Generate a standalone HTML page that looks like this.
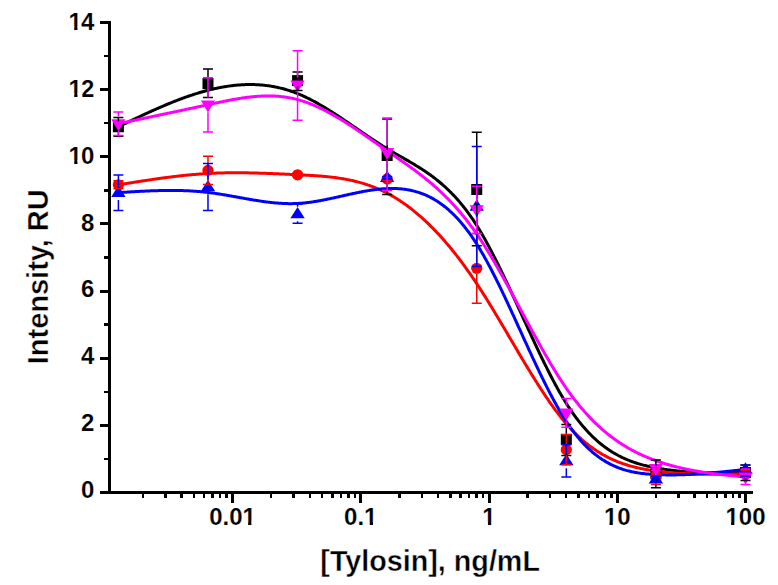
<!DOCTYPE html>
<html><head><meta charset="utf-8"><title>Intensity vs Tylosin</title><style>
html,body{margin:0;padding:0;background:#fff;width:778px;height:585px;overflow:hidden;}
svg{display:block;}
.t{font-family:"Liberation Sans",sans-serif;font-weight:bold;font-size:24.5px;fill:#000;stroke:#fff;stroke-width:0.15px;}
.a{font-family:"Liberation Sans",sans-serif;font-weight:bold;font-size:30.0px;fill:#000;stroke:#fff;stroke-width:0.4px;}
</style></head><body>
<svg width="778" height="585" viewBox="0 0 778 585">
<rect width="778" height="585" fill="#fff"/>
<g>
<path d="M118.40,126.75 L119.30,126.32 L120.19,125.89 L121.09,125.46 L121.98,125.02 L122.88,124.59 L123.78,124.16 L124.67,123.73 L125.57,123.30 L126.46,122.87 L127.36,122.44 L128.25,122.01 L129.15,121.58 L130.05,121.16 L130.94,120.73 L131.84,120.30 L132.73,119.87 L133.63,119.45 L134.53,119.02 L135.42,118.60 L136.32,118.17 L137.21,117.75 L138.11,117.33 L139.00,116.91 L139.90,116.49 L140.80,116.07 L141.69,115.65 L142.59,115.23 L143.48,114.81 L144.38,114.40 L145.28,113.99 L146.17,113.57 L147.07,113.16 L147.96,112.75 L148.86,112.34 L149.75,111.93 L150.65,111.53 L151.55,111.12 L152.44,110.72 L153.34,110.32 L154.23,109.92 L155.13,109.52 L156.03,109.12 L156.92,108.73 L157.82,108.33 L158.71,107.94 L159.61,107.55 L160.51,107.16 L161.40,106.78 L162.30,106.39 L163.19,106.01 L164.09,105.63 L164.98,105.25 L165.88,104.88 L166.78,104.50 L167.67,104.13 L168.57,103.76 L169.46,103.39 L170.36,103.03 L171.26,102.67 L172.15,102.31 L173.05,101.95 L173.94,101.59 L174.84,101.24 L175.73,100.89 L176.63,100.54 L177.53,100.19 L178.42,99.85 L179.32,99.51 L180.21,99.17 L181.11,98.84 L182.01,98.51 L182.90,98.18 L183.80,97.85 L184.69,97.53 L185.59,97.21 L186.49,96.89 L187.38,96.58 L188.28,96.27 L189.17,95.96 L190.07,95.66 L190.96,95.35 L191.86,95.06 L192.76,94.76 L193.65,94.47 L194.55,94.18 L195.44,93.90 L196.34,93.62 L197.24,93.34 L198.13,93.06 L199.03,92.79 L199.92,92.53 L200.82,92.26 L201.71,92.00 L202.61,91.75 L203.51,91.49 L204.40,91.25 L205.30,91.00 L206.19,90.76 L207.09,90.52 L207.99,90.29 L208.88,90.06 L209.78,89.84 L210.67,89.62 L211.57,89.40 L212.47,89.19 L213.36,88.98 L214.26,88.78 L215.15,88.58 L216.05,88.38 L216.94,88.19 L217.84,88.00 L218.74,87.82 L219.63,87.65 L220.53,87.47 L221.42,87.30 L222.32,87.14 L223.22,86.98 L224.11,86.83 L225.01,86.68 L225.90,86.53 L226.80,86.39 L227.69,86.25 L228.59,86.12 L229.49,86.00 L230.38,85.88 L231.28,85.76 L232.17,85.65 L233.07,85.54 L233.97,85.44 L234.86,85.35 L235.76,85.26 L236.65,85.17 L237.55,85.09 L238.44,85.01 L239.34,84.94 L240.24,84.88 L241.13,84.82 L242.03,84.77 L242.92,84.72 L243.82,84.68 L244.72,84.64 L245.61,84.61 L246.51,84.58 L247.40,84.56 L248.30,84.55 L249.20,84.54 L250.09,84.53 L250.99,84.54 L251.88,84.55 L252.78,84.56 L253.67,84.58 L254.57,84.61 L255.47,84.64 L256.36,84.68 L257.26,84.72 L258.15,84.77 L259.05,84.83 L259.95,84.89 L260.84,84.96 L261.74,85.03 L262.63,85.11 L263.53,85.20 L264.42,85.30 L265.32,85.40 L266.22,85.50 L267.11,85.62 L268.01,85.74 L268.90,85.86 L269.80,85.99 L270.70,86.13 L271.59,86.28 L272.49,86.43 L273.38,86.59 L274.28,86.76 L275.18,86.93 L276.07,87.11 L276.97,87.30 L277.86,87.49 L278.76,87.69 L279.65,87.90 L280.55,88.12 L281.45,88.34 L282.34,88.57 L283.24,88.80 L284.13,89.05 L285.03,89.30 L285.93,89.55 L286.82,89.82 L287.72,90.09 L288.61,90.37 L289.51,90.66 L290.40,90.95 L291.30,91.26 L292.20,91.57 L293.09,91.88 L293.99,92.21 L294.88,92.54 L295.78,92.88 L296.68,93.23 L297.57,93.58 L298.47,93.95 L299.36,94.32 L300.26,94.70 L301.15,95.08 L302.05,95.48 L302.95,95.88 L303.84,96.28 L304.74,96.70 L305.63,97.12 L306.53,97.55 L307.43,97.98 L308.32,98.42 L309.22,98.87 L310.11,99.33 L311.01,99.79 L311.91,100.25 L312.80,100.72 L313.70,101.20 L314.59,101.68 L315.49,102.17 L316.38,102.67 L317.28,103.17 L318.18,103.67 L319.07,104.18 L319.97,104.70 L320.86,105.22 L321.76,105.74 L322.66,106.27 L323.55,106.80 L324.45,107.34 L325.34,107.88 L326.24,108.43 L327.13,108.98 L328.03,109.53 L328.93,110.09 L329.82,110.65 L330.72,111.21 L331.61,111.78 L332.51,112.35 L333.41,112.93 L334.30,113.51 L335.20,114.09 L336.09,114.67 L336.99,115.26 L337.88,115.84 L338.78,116.43 L339.68,117.03 L340.57,117.62 L341.47,118.22 L342.36,118.82 L343.26,119.42 L344.16,120.03 L345.05,120.63 L345.95,121.24 L346.84,121.84 L347.74,122.45 L348.64,123.06 L349.53,123.67 L350.43,124.29 L351.32,124.90 L352.22,125.51 L353.11,126.13 L354.01,126.74 L354.91,127.35 L355.80,127.97 L356.70,128.58 L357.59,129.20 L358.49,129.81 L359.39,130.43 L360.28,131.04 L361.18,131.66 L362.07,132.27 L362.97,132.88 L363.86,133.49 L364.76,134.10 L365.66,134.71 L366.55,135.32 L367.45,135.93 L368.34,136.53 L369.24,137.13 L370.14,137.74 L371.03,138.34 L371.93,138.93 L372.82,139.53 L373.72,140.12 L374.62,140.71 L375.51,141.30 L376.41,141.89 L377.30,142.47 L378.20,143.05 L379.09,143.63 L379.99,144.21 L380.89,144.78 L381.78,145.35 L382.68,145.91 L383.57,146.47 L384.47,147.03 L385.37,147.59 L386.26,148.14 L387.16,148.68 L388.05,149.23 L388.95,149.76 L389.84,150.30 L390.74,150.83 L391.64,151.36 L392.53,151.89 L393.43,152.41 L394.32,152.93 L395.22,153.45 L396.12,153.97 L397.01,154.48 L397.91,155.00 L398.80,155.51 L399.70,156.02 L400.59,156.54 L401.49,157.05 L402.39,157.56 L403.28,158.07 L404.18,158.58 L405.07,159.10 L405.97,159.61 L406.87,160.13 L407.76,160.65 L408.66,161.16 L409.55,161.69 L410.45,162.21 L411.35,162.74 L412.24,163.27 L413.14,163.80 L414.03,164.33 L414.93,164.87 L415.82,165.42 L416.72,165.96 L417.62,166.51 L418.51,167.07 L419.41,167.63 L420.30,168.20 L421.20,168.77 L422.10,169.35 L422.99,169.93 L423.89,170.52 L424.78,171.11 L425.68,171.72 L426.57,172.33 L427.47,172.94 L428.37,173.57 L429.26,174.20 L430.16,174.84 L431.05,175.49 L431.95,176.14 L432.85,176.81 L433.74,177.48 L434.64,178.17 L435.53,178.86 L436.43,179.56 L437.33,180.28 L438.22,181.00 L439.12,181.73 L440.01,182.48 L440.91,183.23 L441.80,184.00 L442.70,184.78 L443.60,185.57 L444.49,186.37 L445.39,187.19 L446.28,188.01 L447.18,188.85 L448.08,189.71 L448.97,190.57 L449.87,191.45 L450.76,192.35 L451.66,193.25 L452.55,194.18 L453.45,195.11 L454.35,196.07 L455.24,197.03 L456.14,198.02 L457.03,199.02 L457.93,200.03 L458.83,201.06 L459.72,202.11 L460.62,203.17 L461.51,204.25 L462.41,205.35 L463.31,206.47 L464.20,207.60 L465.10,208.75 L465.99,209.92 L466.89,211.11 L467.78,212.31 L468.68,213.54 L469.58,214.78 L470.47,216.05 L471.37,217.33 L472.26,218.64 L473.16,219.96 L474.06,221.31 L474.95,222.67 L475.85,224.06 L476.74,225.47 L477.64,226.90 L478.53,228.35 L479.43,229.82 L480.33,231.31 L481.22,232.82 L482.12,234.35 L483.01,235.90 L483.91,237.47 L484.81,239.06 L485.70,240.66 L486.60,242.29 L487.49,243.92 L488.39,245.58 L489.28,247.25 L490.18,248.94 L491.08,250.64 L491.97,252.36 L492.87,254.09 L493.76,255.83 L494.66,257.59 L495.56,259.36 L496.45,261.14 L497.35,262.94 L498.24,264.74 L499.14,266.56 L500.04,268.39 L500.93,270.23 L501.83,272.08 L502.72,273.94 L503.62,275.81 L504.51,277.68 L505.41,279.57 L506.31,281.46 L507.20,283.36 L508.10,285.27 L508.99,287.18 L509.89,289.10 L510.79,291.03 L511.68,292.96 L512.58,294.89 L513.47,296.83 L514.37,298.78 L515.26,300.72 L516.16,302.67 L517.06,304.62 L517.95,306.58 L518.85,308.54 L519.74,310.49 L520.64,312.45 L521.54,314.41 L522.43,316.37 L523.33,318.33 L524.22,320.29 L525.12,322.24 L526.01,324.20 L526.91,326.15 L527.81,328.10 L528.70,330.05 L529.60,331.99 L530.49,333.93 L531.39,335.87 L532.29,337.80 L533.18,339.73 L534.08,341.65 L534.97,343.56 L535.87,345.47 L536.77,347.37 L537.66,349.26 L538.56,351.15 L539.45,353.03 L540.35,354.90 L541.24,356.76 L542.14,358.61 L543.04,360.45 L543.93,362.28 L544.83,364.10 L545.72,365.91 L546.62,367.70 L547.52,369.49 L548.41,371.26 L549.31,373.02 L550.20,374.77 L551.10,376.50 L551.99,378.22 L552.89,379.92 L553.79,381.61 L554.68,383.28 L555.58,384.94 L556.47,386.58 L557.37,388.20 L558.27,389.81 L559.16,391.40 L560.06,392.97 L560.95,394.52 L561.85,396.06 L562.75,397.57 L563.64,399.06 L564.54,400.54 L565.43,401.99 L566.33,403.42 L567.22,404.84 L568.12,406.23 L569.02,407.59 L569.91,408.94 L570.81,410.27 L571.70,411.57 L572.60,412.86 L573.50,414.13 L574.39,415.37 L575.29,416.60 L576.18,417.80 L577.08,418.99 L577.97,420.15 L578.87,421.30 L579.77,422.43 L580.66,423.54 L581.56,424.63 L582.45,425.70 L583.35,426.76 L584.25,427.79 L585.14,428.81 L586.04,429.81 L586.93,430.80 L587.83,431.76 L588.72,432.71 L589.62,433.64 L590.52,434.55 L591.41,435.45 L592.31,436.33 L593.20,437.20 L594.10,438.05 L595.00,438.88 L595.89,439.70 L596.79,440.50 L597.68,441.28 L598.58,442.05 L599.48,442.81 L600.37,443.55 L601.27,444.28 L602.16,444.99 L603.06,445.69 L603.95,446.37 L604.85,447.04 L605.75,447.69 L606.64,448.33 L607.54,448.96 L608.43,449.58 L609.33,450.18 L610.23,450.77 L611.12,451.34 L612.02,451.91 L612.91,452.46 L613.81,453.00 L614.70,453.52 L615.60,454.04 L616.50,454.54 L617.39,455.03 L618.29,455.51 L619.18,455.98 L620.08,456.44 L620.98,456.89 L621.87,457.33 L622.77,457.75 L623.66,458.17 L624.56,458.58 L625.46,458.97 L626.35,459.36 L627.25,459.74 L628.14,460.11 L629.04,460.46 L629.93,460.81 L630.83,461.16 L631.73,461.49 L632.62,461.81 L633.52,462.13 L634.41,462.44 L635.31,462.74 L636.21,463.03 L637.10,463.31 L638.00,463.59 L638.89,463.86 L639.79,464.12 L640.68,464.38 L641.58,464.63 L642.48,464.87 L643.37,465.11 L644.27,465.34 L645.16,465.56 L646.06,465.78 L646.96,466.00 L647.85,466.21 L648.75,466.41 L649.64,466.61 L650.54,466.80 L651.43,466.99 L652.33,467.17 L653.23,467.35 L654.12,467.53 L655.02,467.70 L655.91,467.87 L656.82,468.03 L657.72,468.19 L658.63,468.35 L659.53,468.51 L660.44,468.66 L661.34,468.81 L662.25,468.95 L663.15,469.09 L664.06,469.23 L664.96,469.37 L665.87,469.50 L666.77,469.63 L667.68,469.75 L668.58,469.87 L669.49,469.99 L670.39,470.11 L671.30,470.22 L672.20,470.33 L673.11,470.43 L674.01,470.54 L674.92,470.64 L675.82,470.73 L676.73,470.83 L677.63,470.92 L678.54,471.01 L679.44,471.10 L680.35,471.18 L681.25,471.26 L682.16,471.34 L683.06,471.42 L683.97,471.49 L684.87,471.56 L685.78,471.63 L686.68,471.69 L687.59,471.76 L688.49,471.82 L689.40,471.88 L690.30,471.93 L691.21,471.99 L692.11,472.04 L693.02,472.09 L693.92,472.14 L694.83,472.18 L695.73,472.22 L696.64,472.27 L697.54,472.30 L698.44,472.34 L699.35,472.38 L700.25,472.41 L701.16,472.44 L702.06,472.47 L702.97,472.50 L703.87,472.53 L704.78,472.55 L705.68,472.57 L706.59,472.60 L707.49,472.62 L708.40,472.63 L709.30,472.65 L710.21,472.67 L711.11,472.68 L712.02,472.69 L712.92,472.70 L713.83,472.71 L714.73,472.72 L715.64,472.73 L716.54,472.73 L717.45,472.74 L718.35,472.74 L719.26,472.75 L720.16,472.75 L721.07,472.75 L721.97,472.75 L722.88,472.74 L723.78,472.74 L724.69,472.74 L725.59,472.73 L726.50,472.73 L727.40,472.72 L728.31,472.72 L729.21,472.71 L730.12,472.70 L731.02,472.69 L731.93,472.68 L732.83,472.67 L733.74,472.66 L734.64,472.65 L735.55,472.64 L736.45,472.63 L737.36,472.62 L738.26,472.61 L739.17,472.59 L740.07,472.58 L740.98,472.57 L741.88,472.55 L742.79,472.54 L743.69,472.53 L744.60,472.51 L745.50,472.50" fill="none" stroke="#000000" stroke-width="3" stroke-linejoin="round"/>
<path d="M118.40,184.80 L119.30,184.66 L120.19,184.51 L121.09,184.37 L121.98,184.22 L122.88,184.08 L123.78,183.93 L124.67,183.79 L125.57,183.65 L126.46,183.50 L127.36,183.36 L128.25,183.21 L129.15,183.07 L130.05,182.93 L130.94,182.79 L131.84,182.64 L132.73,182.50 L133.63,182.36 L134.53,182.22 L135.42,182.08 L136.32,181.94 L137.21,181.79 L138.11,181.65 L139.00,181.51 L139.90,181.38 L140.80,181.24 L141.69,181.10 L142.59,180.96 L143.48,180.82 L144.38,180.69 L145.28,180.55 L146.17,180.41 L147.07,180.28 L147.96,180.14 L148.86,180.01 L149.75,179.88 L150.65,179.74 L151.55,179.61 L152.44,179.48 L153.34,179.35 L154.23,179.22 L155.13,179.09 L156.03,178.96 L156.92,178.84 L157.82,178.71 L158.71,178.58 L159.61,178.46 L160.51,178.34 L161.40,178.21 L162.30,178.09 L163.19,177.97 L164.09,177.85 L164.98,177.73 L165.88,177.61 L166.78,177.49 L167.67,177.38 L168.57,177.26 L169.46,177.15 L170.36,177.03 L171.26,176.92 L172.15,176.81 L173.05,176.70 L173.94,176.59 L174.84,176.48 L175.73,176.38 L176.63,176.27 L177.53,176.17 L178.42,176.07 L179.32,175.96 L180.21,175.86 L181.11,175.77 L182.01,175.67 L182.90,175.57 L183.80,175.48 L184.69,175.38 L185.59,175.29 L186.49,175.20 L187.38,175.11 L188.28,175.02 L189.17,174.94 L190.07,174.85 L190.96,174.77 L191.86,174.69 L192.76,174.61 L193.65,174.53 L194.55,174.45 L195.44,174.38 L196.34,174.30 L197.24,174.23 L198.13,174.16 L199.03,174.09 L199.92,174.02 L200.82,173.96 L201.71,173.90 L202.61,173.83 L203.51,173.77 L204.40,173.71 L205.30,173.66 L206.19,173.60 L207.09,173.55 L207.99,173.50 L208.88,173.45 L209.78,173.40 L210.67,173.36 L211.57,173.31 L212.47,173.27 L213.36,173.23 L214.26,173.20 L215.15,173.16 L216.05,173.12 L216.94,173.09 L217.84,173.06 L218.74,173.03 L219.63,173.00 L220.53,172.98 L221.42,172.95 L222.32,172.93 L223.22,172.91 L224.11,172.89 L225.01,172.87 L225.90,172.85 L226.80,172.84 L227.69,172.82 L228.59,172.81 L229.49,172.80 L230.38,172.79 L231.28,172.78 L232.17,172.78 L233.07,172.77 L233.97,172.77 L234.86,172.76 L235.76,172.76 L236.65,172.76 L237.55,172.76 L238.44,172.77 L239.34,172.77 L240.24,172.78 L241.13,172.78 L242.03,172.79 L242.92,172.80 L243.82,172.81 L244.72,172.82 L245.61,172.83 L246.51,172.84 L247.40,172.86 L248.30,172.87 L249.20,172.89 L250.09,172.91 L250.99,172.92 L251.88,172.94 L252.78,172.96 L253.67,172.98 L254.57,173.01 L255.47,173.03 L256.36,173.05 L257.26,173.08 L258.15,173.10 L259.05,173.13 L259.95,173.16 L260.84,173.18 L261.74,173.21 L262.63,173.24 L263.53,173.27 L264.42,173.30 L265.32,173.33 L266.22,173.37 L267.11,173.40 L268.01,173.43 L268.90,173.47 L269.80,173.50 L270.70,173.54 L271.59,173.57 L272.49,173.61 L273.38,173.64 L274.28,173.68 L275.18,173.72 L276.07,173.76 L276.97,173.80 L277.86,173.83 L278.76,173.87 L279.65,173.91 L280.55,173.95 L281.45,173.99 L282.34,174.04 L283.24,174.08 L284.13,174.12 L285.03,174.16 L285.93,174.20 L286.82,174.24 L287.72,174.29 L288.61,174.33 L289.51,174.37 L290.40,174.41 L291.30,174.46 L292.20,174.50 L293.09,174.54 L293.99,174.59 L294.88,174.63 L295.78,174.67 L296.68,174.72 L297.57,174.76 L298.47,174.80 L299.36,174.84 L300.26,174.89 L301.15,174.93 L302.05,174.98 L302.95,175.02 L303.84,175.07 L304.74,175.11 L305.63,175.16 L306.53,175.20 L307.43,175.25 L308.32,175.30 L309.22,175.35 L310.11,175.40 L311.01,175.45 L311.91,175.51 L312.80,175.56 L313.70,175.62 L314.59,175.67 L315.49,175.73 L316.38,175.79 L317.28,175.86 L318.18,175.92 L319.07,175.99 L319.97,176.05 L320.86,176.12 L321.76,176.20 L322.66,176.27 L323.55,176.35 L324.45,176.43 L325.34,176.51 L326.24,176.60 L327.13,176.68 L328.03,176.77 L328.93,176.87 L329.82,176.96 L330.72,177.06 L331.61,177.16 L332.51,177.27 L333.41,177.38 L334.30,177.49 L335.20,177.61 L336.09,177.73 L336.99,177.85 L337.88,177.98 L338.78,178.11 L339.68,178.24 L340.57,178.38 L341.47,178.52 L342.36,178.67 L343.26,178.82 L344.16,178.97 L345.05,179.13 L345.95,179.30 L346.84,179.47 L347.74,179.64 L348.64,179.82 L349.53,180.00 L350.43,180.19 L351.32,180.38 L352.22,180.58 L353.11,180.78 L354.01,180.99 L354.91,181.20 L355.80,181.42 L356.70,181.65 L357.59,181.88 L358.49,182.11 L359.39,182.36 L360.28,182.60 L361.18,182.86 L362.07,183.12 L362.97,183.38 L363.86,183.65 L364.76,183.93 L365.66,184.22 L366.55,184.51 L367.45,184.81 L368.34,185.11 L369.24,185.42 L370.14,185.74 L371.03,186.06 L371.93,186.40 L372.82,186.73 L373.72,187.08 L374.62,187.43 L375.51,187.79 L376.41,188.16 L377.30,188.54 L378.20,188.92 L379.09,189.31 L379.99,189.71 L380.89,190.11 L381.78,190.53 L382.68,190.95 L383.57,191.38 L384.47,191.82 L385.37,192.27 L386.26,192.72 L387.16,193.18 L388.05,193.66 L388.95,194.14 L389.84,194.62 L390.74,195.12 L391.64,195.63 L392.53,196.14 L393.43,196.66 L394.32,197.20 L395.22,197.74 L396.12,198.28 L397.01,198.84 L397.91,199.41 L398.80,199.98 L399.70,200.57 L400.59,201.16 L401.49,201.76 L402.39,202.37 L403.28,202.98 L404.18,203.61 L405.07,204.24 L405.97,204.89 L406.87,205.54 L407.76,206.20 L408.66,206.87 L409.55,207.55 L410.45,208.24 L411.35,208.93 L412.24,209.63 L413.14,210.35 L414.03,211.07 L414.93,211.80 L415.82,212.54 L416.72,213.29 L417.62,214.04 L418.51,214.81 L419.41,215.58 L420.30,216.36 L421.20,217.16 L422.10,217.96 L422.99,218.77 L423.89,219.58 L424.78,220.41 L425.68,221.25 L426.57,222.09 L427.47,222.94 L428.37,223.80 L429.26,224.68 L430.16,225.55 L431.05,226.44 L431.95,227.34 L432.85,228.25 L433.74,229.16 L434.64,230.09 L435.53,231.02 L436.43,231.96 L437.33,232.91 L438.22,233.87 L439.12,234.84 L440.01,235.82 L440.91,236.80 L441.80,237.80 L442.70,238.80 L443.60,239.81 L444.49,240.84 L445.39,241.87 L446.28,242.91 L447.18,243.95 L448.08,245.01 L448.97,246.08 L449.87,247.16 L450.76,248.24 L451.66,249.33 L452.55,250.44 L453.45,251.55 L454.35,252.67 L455.24,253.80 L456.14,254.94 L457.03,256.09 L457.93,257.24 L458.83,258.41 L459.72,259.58 L460.62,260.77 L461.51,261.96 L462.41,263.16 L463.31,264.37 L464.20,265.60 L465.10,266.82 L465.99,268.06 L466.89,269.31 L467.78,270.57 L468.68,271.83 L469.58,273.11 L470.47,274.39 L471.37,275.69 L472.26,276.99 L473.16,278.30 L474.06,279.62 L474.95,280.95 L475.85,282.29 L476.74,283.64 L477.64,285.00 L478.53,286.37 L479.43,287.74 L480.33,289.13 L481.22,290.52 L482.12,291.92 L483.01,293.33 L483.91,294.74 L484.81,296.16 L485.70,297.59 L486.60,299.03 L487.49,300.47 L488.39,301.92 L489.28,303.38 L490.18,304.84 L491.08,306.30 L491.97,307.77 L492.87,309.25 L493.76,310.73 L494.66,312.22 L495.56,313.71 L496.45,315.20 L497.35,316.70 L498.24,318.20 L499.14,319.71 L500.04,321.21 L500.93,322.72 L501.83,324.24 L502.72,325.75 L503.62,327.27 L504.51,328.79 L505.41,330.31 L506.31,331.83 L507.20,333.35 L508.10,334.88 L508.99,336.40 L509.89,337.92 L510.79,339.45 L511.68,340.97 L512.58,342.50 L513.47,344.02 L514.37,345.54 L515.26,347.06 L516.16,348.58 L517.06,350.10 L517.95,351.62 L518.85,353.13 L519.74,354.64 L520.64,356.15 L521.54,357.66 L522.43,359.16 L523.33,360.66 L524.22,362.15 L525.12,363.65 L526.01,365.13 L526.91,366.62 L527.81,368.10 L528.70,369.57 L529.60,371.04 L530.49,372.50 L531.39,373.96 L532.29,375.41 L533.18,376.86 L534.08,378.29 L534.97,379.73 L535.87,381.15 L536.77,382.57 L537.66,383.98 L538.56,385.39 L539.45,386.78 L540.35,388.17 L541.24,389.55 L542.14,390.92 L543.04,392.28 L543.93,393.63 L544.83,394.98 L545.72,396.31 L546.62,397.63 L547.52,398.95 L548.41,400.25 L549.31,401.54 L550.20,402.83 L551.10,404.10 L551.99,405.36 L552.89,406.60 L553.79,407.84 L554.68,409.06 L555.58,410.28 L556.47,411.47 L557.37,412.66 L558.27,413.83 L559.16,414.99 L560.06,416.14 L560.95,417.27 L561.85,418.39 L562.75,419.50 L563.64,420.59 L564.54,421.66 L565.43,422.72 L566.33,423.77 L567.22,424.80 L568.12,425.81 L569.02,426.81 L569.91,427.79 L570.81,428.76 L571.70,429.71 L572.60,430.65 L573.50,431.58 L574.39,432.49 L575.29,433.38 L576.18,434.26 L577.08,435.13 L577.97,435.98 L578.87,436.82 L579.77,437.65 L580.66,438.46 L581.56,439.26 L582.45,440.04 L583.35,440.81 L584.25,441.57 L585.14,442.32 L586.04,443.05 L586.93,443.77 L587.83,444.48 L588.72,445.17 L589.62,445.85 L590.52,446.52 L591.41,447.18 L592.31,447.83 L593.20,448.46 L594.10,449.08 L595.00,449.69 L595.89,450.29 L596.79,450.88 L597.68,451.46 L598.58,452.03 L599.48,452.58 L600.37,453.12 L601.27,453.66 L602.16,454.18 L603.06,454.69 L603.95,455.20 L604.85,455.69 L605.75,456.17 L606.64,456.64 L607.54,457.10 L608.43,457.56 L609.33,458.00 L610.23,458.43 L611.12,458.86 L612.02,459.27 L612.91,459.68 L613.81,460.07 L614.70,460.46 L615.60,460.84 L616.50,461.21 L617.39,461.58 L618.29,461.93 L619.18,462.28 L620.08,462.62 L620.98,462.95 L621.87,463.27 L622.77,463.58 L623.66,463.89 L624.56,464.19 L625.46,464.48 L626.35,464.77 L627.25,465.05 L628.14,465.32 L629.04,465.59 L629.93,465.84 L630.83,466.10 L631.73,466.34 L632.62,466.58 L633.52,466.81 L634.41,467.04 L635.31,467.26 L636.21,467.48 L637.10,467.69 L638.00,467.89 L638.89,468.09 L639.79,468.29 L640.68,468.48 L641.58,468.66 L642.48,468.84 L643.37,469.01 L644.27,469.18 L645.16,469.35 L646.06,469.51 L646.96,469.67 L647.85,469.82 L648.75,469.97 L649.64,470.11 L650.54,470.26 L651.43,470.39 L652.33,470.53 L653.23,470.66 L654.12,470.79 L655.02,470.91 L655.91,471.03 L656.82,471.15 L657.72,471.27 L658.63,471.39 L659.53,471.50 L660.44,471.61 L661.34,471.71 L662.25,471.82 L663.15,471.92 L664.06,472.02 L664.96,472.11 L665.87,472.21 L666.77,472.30 L667.68,472.38 L668.58,472.47 L669.49,472.55 L670.39,472.63 L671.30,472.71 L672.20,472.79 L673.11,472.86 L674.01,472.93 L674.92,473.00 L675.82,473.07 L676.73,473.14 L677.63,473.20 L678.54,473.26 L679.44,473.32 L680.35,473.37 L681.25,473.43 L682.16,473.48 L683.06,473.53 L683.97,473.58 L684.87,473.62 L685.78,473.67 L686.68,473.71 L687.59,473.75 L688.49,473.79 L689.40,473.82 L690.30,473.86 L691.21,473.89 L692.11,473.92 L693.02,473.95 L693.92,473.98 L694.83,474.01 L695.73,474.03 L696.64,474.06 L697.54,474.08 L698.44,474.10 L699.35,474.12 L700.25,474.13 L701.16,474.15 L702.06,474.16 L702.97,474.18 L703.87,474.19 L704.78,474.20 L705.68,474.21 L706.59,474.21 L707.49,474.22 L708.40,474.23 L709.30,474.23 L710.21,474.23 L711.11,474.23 L712.02,474.24 L712.92,474.23 L713.83,474.23 L714.73,474.23 L715.64,474.23 L716.54,474.22 L717.45,474.22 L718.35,474.21 L719.26,474.20 L720.16,474.20 L721.07,474.19 L721.97,474.18 L722.88,474.17 L723.78,474.16 L724.69,474.14 L725.59,474.13 L726.50,474.12 L727.40,474.11 L728.31,474.09 L729.21,474.08 L730.12,474.06 L731.02,474.05 L731.93,474.03 L732.83,474.01 L733.74,474.00 L734.64,473.98 L735.55,473.96 L736.45,473.94 L737.36,473.92 L738.26,473.91 L739.17,473.89 L740.07,473.87 L740.98,473.85 L741.88,473.83 L742.79,473.81 L743.69,473.79 L744.60,473.77 L745.50,473.75" fill="none" stroke="#FF0000" stroke-width="3" stroke-linejoin="round"/>
<path d="M118.40,192.65 L119.30,192.59 L120.19,192.54 L121.09,192.48 L121.98,192.42 L122.88,192.37 L123.78,192.31 L124.67,192.26 L125.57,192.20 L126.46,192.15 L127.36,192.09 L128.25,192.04 L129.15,191.98 L130.05,191.93 L130.94,191.87 L131.84,191.82 L132.73,191.77 L133.63,191.72 L134.53,191.66 L135.42,191.61 L136.32,191.56 L137.21,191.51 L138.11,191.46 L139.00,191.42 L139.90,191.37 L140.80,191.32 L141.69,191.28 L142.59,191.23 L143.48,191.19 L144.38,191.14 L145.28,191.10 L146.17,191.06 L147.07,191.02 L147.96,190.98 L148.86,190.94 L149.75,190.91 L150.65,190.87 L151.55,190.84 L152.44,190.80 L153.34,190.77 L154.23,190.74 L155.13,190.71 L156.03,190.68 L156.92,190.65 L157.82,190.63 L158.71,190.60 L159.61,190.58 L160.51,190.56 L161.40,190.54 L162.30,190.52 L163.19,190.51 L164.09,190.49 L164.98,190.48 L165.88,190.47 L166.78,190.46 L167.67,190.45 L168.57,190.44 L169.46,190.44 L170.36,190.43 L171.26,190.43 L172.15,190.44 L173.05,190.44 L173.94,190.44 L174.84,190.45 L175.73,190.46 L176.63,190.47 L177.53,190.49 L178.42,190.50 L179.32,190.52 L180.21,190.54 L181.11,190.56 L182.01,190.59 L182.90,190.61 L183.80,190.64 L184.69,190.67 L185.59,190.71 L186.49,190.74 L187.38,190.78 L188.28,190.83 L189.17,190.87 L190.07,190.92 L190.96,190.97 L191.86,191.02 L192.76,191.07 L193.65,191.13 L194.55,191.19 L195.44,191.25 L196.34,191.32 L197.24,191.39 L198.13,191.46 L199.03,191.53 L199.92,191.61 L200.82,191.69 L201.71,191.77 L202.61,191.86 L203.51,191.95 L204.40,192.04 L205.30,192.14 L206.19,192.23 L207.09,192.34 L207.99,192.44 L208.88,192.55 L209.78,192.66 L210.67,192.78 L211.57,192.89 L212.47,193.01 L213.36,193.14 L214.26,193.26 L215.15,193.39 L216.05,193.52 L216.94,193.66 L217.84,193.79 L218.74,193.93 L219.63,194.07 L220.53,194.21 L221.42,194.36 L222.32,194.50 L223.22,194.65 L224.11,194.80 L225.01,194.95 L225.90,195.10 L226.80,195.26 L227.69,195.41 L228.59,195.57 L229.49,195.72 L230.38,195.88 L231.28,196.04 L232.17,196.20 L233.07,196.36 L233.97,196.52 L234.86,196.68 L235.76,196.84 L236.65,197.01 L237.55,197.17 L238.44,197.33 L239.34,197.49 L240.24,197.66 L241.13,197.82 L242.03,197.98 L242.92,198.14 L243.82,198.30 L244.72,198.46 L245.61,198.62 L246.51,198.78 L247.40,198.94 L248.30,199.10 L249.20,199.25 L250.09,199.41 L250.99,199.56 L251.88,199.71 L252.78,199.86 L253.67,200.01 L254.57,200.16 L255.47,200.31 L256.36,200.45 L257.26,200.59 L258.15,200.73 L259.05,200.87 L259.95,201.01 L260.84,201.14 L261.74,201.27 L262.63,201.40 L263.53,201.53 L264.42,201.65 L265.32,201.77 L266.22,201.89 L267.11,202.01 L268.01,202.12 L268.90,202.23 L269.80,202.33 L270.70,202.43 L271.59,202.53 L272.49,202.63 L273.38,202.72 L274.28,202.81 L275.18,202.89 L276.07,202.97 L276.97,203.05 L277.86,203.12 L278.76,203.19 L279.65,203.25 L280.55,203.31 L281.45,203.36 L282.34,203.41 L283.24,203.46 L284.13,203.50 L285.03,203.54 L285.93,203.57 L286.82,203.59 L287.72,203.61 L288.61,203.63 L289.51,203.64 L290.40,203.64 L291.30,203.64 L292.20,203.63 L293.09,203.62 L293.99,203.60 L294.88,203.58 L295.78,203.55 L296.68,203.51 L297.57,203.47 L298.47,203.42 L299.36,203.36 L300.26,203.30 L301.15,203.23 L302.05,203.16 L302.95,203.08 L303.84,203.00 L304.74,202.91 L305.63,202.81 L306.53,202.71 L307.43,202.61 L308.32,202.50 L309.22,202.38 L310.11,202.26 L311.01,202.14 L311.91,202.01 L312.80,201.88 L313.70,201.74 L314.59,201.60 L315.49,201.45 L316.38,201.30 L317.28,201.15 L318.18,201.00 L319.07,200.84 L319.97,200.67 L320.86,200.51 L321.76,200.34 L322.66,200.17 L323.55,200.00 L324.45,199.82 L325.34,199.64 L326.24,199.46 L327.13,199.27 L328.03,199.09 L328.93,198.90 L329.82,198.71 L330.72,198.52 L331.61,198.33 L332.51,198.13 L333.41,197.94 L334.30,197.74 L335.20,197.54 L336.09,197.34 L336.99,197.14 L337.88,196.94 L338.78,196.74 L339.68,196.54 L340.57,196.34 L341.47,196.14 L342.36,195.93 L343.26,195.73 L344.16,195.53 L345.05,195.33 L345.95,195.13 L346.84,194.93 L347.74,194.73 L348.64,194.53 L349.53,194.33 L350.43,194.13 L351.32,193.94 L352.22,193.74 L353.11,193.55 L354.01,193.36 L354.91,193.17 L355.80,192.98 L356.70,192.80 L357.59,192.62 L358.49,192.43 L359.39,192.26 L360.28,192.08 L361.18,191.91 L362.07,191.74 L362.97,191.57 L363.86,191.40 L364.76,191.24 L365.66,191.08 L366.55,190.93 L367.45,190.78 L368.34,190.63 L369.24,190.49 L370.14,190.35 L371.03,190.21 L371.93,190.08 L372.82,189.95 L373.72,189.83 L374.62,189.71 L375.51,189.59 L376.41,189.49 L377.30,189.38 L378.20,189.28 L379.09,189.19 L379.99,189.10 L380.89,189.02 L381.78,188.94 L382.68,188.87 L383.57,188.80 L384.47,188.74 L385.37,188.69 L386.26,188.64 L387.16,188.60 L388.05,188.57 L388.95,188.54 L389.84,188.52 L390.74,188.50 L391.64,188.49 L392.53,188.49 L393.43,188.50 L394.32,188.52 L395.22,188.54 L396.12,188.57 L397.01,188.61 L397.91,188.66 L398.80,188.71 L399.70,188.78 L400.59,188.85 L401.49,188.93 L402.39,189.02 L403.28,189.12 L404.18,189.23 L405.07,189.35 L405.97,189.48 L406.87,189.62 L407.76,189.77 L408.66,189.93 L409.55,190.09 L410.45,190.27 L411.35,190.46 L412.24,190.67 L413.14,190.88 L414.03,191.10 L414.93,191.34 L415.82,191.58 L416.72,191.84 L417.62,192.11 L418.51,192.39 L419.41,192.68 L420.30,192.99 L421.20,193.31 L422.10,193.64 L422.99,193.98 L423.89,194.34 L424.78,194.71 L425.68,195.09 L426.57,195.49 L427.47,195.90 L428.37,196.32 L429.26,196.76 L430.16,197.21 L431.05,197.68 L431.95,198.16 L432.85,198.65 L433.74,199.16 L434.64,199.68 L435.53,200.22 L436.43,200.78 L437.33,201.35 L438.22,201.93 L439.12,202.53 L440.01,203.15 L440.91,203.78 L441.80,204.43 L442.70,205.10 L443.60,205.78 L444.49,206.48 L445.39,207.19 L446.28,207.92 L447.18,208.67 L448.08,209.44 L448.97,210.22 L449.87,211.02 L450.76,211.84 L451.66,212.68 L452.55,213.53 L453.45,214.41 L454.35,215.30 L455.24,216.21 L456.14,217.14 L457.03,218.09 L457.93,219.05 L458.83,220.04 L459.72,221.04 L460.62,222.07 L461.51,223.11 L462.41,224.18 L463.31,225.26 L464.20,226.37 L465.10,227.49 L465.99,228.64 L466.89,229.80 L467.78,230.99 L468.68,232.20 L469.58,233.43 L470.47,234.68 L471.37,235.95 L472.26,237.24 L473.16,238.56 L474.06,239.90 L474.95,241.26 L475.85,242.64 L476.74,244.04 L477.64,245.47 L478.53,246.92 L479.43,248.39 L480.33,249.88 L481.22,251.39 L482.12,252.92 L483.01,254.48 L483.91,256.05 L484.81,257.64 L485.70,259.25 L486.60,260.87 L487.49,262.52 L488.39,264.18 L489.28,265.86 L490.18,267.55 L491.08,269.26 L491.97,270.99 L492.87,272.73 L493.76,274.48 L494.66,276.25 L495.56,278.03 L496.45,279.82 L497.35,281.63 L498.24,283.45 L499.14,285.28 L500.04,287.12 L500.93,288.97 L501.83,290.83 L502.72,292.70 L503.62,294.58 L504.51,296.47 L505.41,298.37 L506.31,300.28 L507.20,302.19 L508.10,304.11 L508.99,306.03 L509.89,307.97 L510.79,309.90 L511.68,311.85 L512.58,313.79 L513.47,315.74 L514.37,317.70 L515.26,319.66 L516.16,321.62 L517.06,323.58 L517.95,325.55 L518.85,327.51 L519.74,329.48 L520.64,331.45 L521.54,333.41 L522.43,335.38 L523.33,337.35 L524.22,339.31 L525.12,341.27 L526.01,343.23 L526.91,345.19 L527.81,347.15 L528.70,349.10 L529.60,351.04 L530.49,352.98 L531.39,354.92 L532.29,356.85 L533.18,358.77 L534.08,360.69 L534.97,362.60 L535.87,364.51 L536.77,366.40 L537.66,368.29 L538.56,370.17 L539.45,372.04 L540.35,373.90 L541.24,375.75 L542.14,377.59 L543.04,379.42 L543.93,381.23 L544.83,383.04 L545.72,384.83 L546.62,386.61 L547.52,388.37 L548.41,390.12 L549.31,391.86 L550.20,393.58 L551.10,395.29 L551.99,396.98 L552.89,398.65 L553.79,400.31 L554.68,401.95 L555.58,403.58 L556.47,405.18 L557.37,406.77 L558.27,408.34 L559.16,409.88 L560.06,411.41 L560.95,412.92 L561.85,414.41 L562.75,415.87 L563.64,417.32 L564.54,418.74 L565.43,420.14 L566.33,421.52 L567.22,422.87 L568.12,424.20 L569.02,425.50 L569.91,426.79 L570.81,428.05 L571.70,429.29 L572.60,430.50 L573.50,431.70 L574.39,432.87 L575.29,434.02 L576.18,435.14 L577.08,436.25 L577.97,437.34 L578.87,438.40 L579.77,439.45 L580.66,440.47 L581.56,441.47 L582.45,442.46 L583.35,443.42 L584.25,444.36 L585.14,445.29 L586.04,446.19 L586.93,447.08 L587.83,447.95 L588.72,448.79 L589.62,449.63 L590.52,450.44 L591.41,451.23 L592.31,452.01 L593.20,452.77 L594.10,453.51 L595.00,454.23 L595.89,454.94 L596.79,455.63 L597.68,456.30 L598.58,456.96 L599.48,457.60 L600.37,458.23 L601.27,458.84 L602.16,459.43 L603.06,460.01 L603.95,460.57 L604.85,461.12 L605.75,461.66 L606.64,462.18 L607.54,462.68 L608.43,463.18 L609.33,463.65 L610.23,464.12 L611.12,464.57 L612.02,465.01 L612.91,465.43 L613.81,465.84 L614.70,466.24 L615.60,466.63 L616.50,467.00 L617.39,467.36 L618.29,467.71 L619.18,468.05 L620.08,468.38 L620.98,468.70 L621.87,469.00 L622.77,469.30 L623.66,469.58 L624.56,469.86 L625.46,470.12 L626.35,470.38 L627.25,470.62 L628.14,470.86 L629.04,471.08 L629.93,471.30 L630.83,471.51 L631.73,471.71 L632.62,471.90 L633.52,472.08 L634.41,472.25 L635.31,472.42 L636.21,472.58 L637.10,472.73 L638.00,472.88 L638.89,473.01 L639.79,473.14 L640.68,473.27 L641.58,473.39 L642.48,473.50 L643.37,473.60 L644.27,473.70 L645.16,473.80 L646.06,473.89 L646.96,473.97 L647.85,474.05 L648.75,474.12 L649.64,474.19 L650.54,474.26 L651.43,474.32 L652.33,474.38 L653.23,474.43 L654.12,474.48 L655.02,474.53 L655.91,474.57 L656.82,474.62 L657.72,474.66 L658.63,474.69 L659.53,474.72 L660.44,474.76 L661.34,474.78 L662.25,474.81 L663.15,474.83 L664.06,474.85 L664.96,474.87 L665.87,474.88 L666.77,474.89 L667.68,474.90 L668.58,474.91 L669.49,474.91 L670.39,474.92 L671.30,474.92 L672.20,474.91 L673.11,474.91 L674.01,474.90 L674.92,474.89 L675.82,474.88 L676.73,474.86 L677.63,474.85 L678.54,474.83 L679.44,474.81 L680.35,474.78 L681.25,474.76 L682.16,474.73 L683.06,474.70 L683.97,474.67 L684.87,474.64 L685.78,474.60 L686.68,474.56 L687.59,474.52 L688.49,474.48 L689.40,474.44 L690.30,474.39 L691.21,474.35 L692.11,474.30 L693.02,474.25 L693.92,474.20 L694.83,474.14 L695.73,474.09 L696.64,474.03 L697.54,473.98 L698.44,473.92 L699.35,473.85 L700.25,473.79 L701.16,473.73 L702.06,473.66 L702.97,473.59 L703.87,473.53 L704.78,473.46 L705.68,473.39 L706.59,473.31 L707.49,473.24 L708.40,473.16 L709.30,473.09 L710.21,473.01 L711.11,472.93 L712.02,472.85 L712.92,472.77 L713.83,472.69 L714.73,472.61 L715.64,472.52 L716.54,472.44 L717.45,472.35 L718.35,472.27 L719.26,472.18 L720.16,472.09 L721.07,472.00 L721.97,471.91 L722.88,471.82 L723.78,471.73 L724.69,471.64 L725.59,471.55 L726.50,471.45 L727.40,471.36 L728.31,471.27 L729.21,471.17 L730.12,471.08 L731.02,470.98 L731.93,470.88 L732.83,470.79 L733.74,470.69 L734.64,470.59 L735.55,470.49 L736.45,470.40 L737.36,470.30 L738.26,470.20 L739.17,470.10 L740.07,470.00 L740.98,469.90 L741.88,469.80 L742.79,469.70 L743.69,469.60 L744.60,469.50 L745.50,469.40" fill="none" stroke="#0000FF" stroke-width="3" stroke-linejoin="round"/>
<path d="M118.40,123.70 L119.30,123.51 L120.19,123.32 L121.09,123.14 L121.98,122.95 L122.88,122.76 L123.78,122.57 L124.67,122.38 L125.57,122.20 L126.46,122.01 L127.36,121.82 L128.25,121.63 L129.15,121.44 L130.05,121.26 L130.94,121.07 L131.84,120.88 L132.73,120.69 L133.63,120.50 L134.53,120.31 L135.42,120.13 L136.32,119.94 L137.21,119.75 L138.11,119.56 L139.00,119.37 L139.90,119.19 L140.80,119.00 L141.69,118.81 L142.59,118.62 L143.48,118.43 L144.38,118.24 L145.28,118.06 L146.17,117.87 L147.07,117.68 L147.96,117.49 L148.86,117.30 L149.75,117.11 L150.65,116.92 L151.55,116.73 L152.44,116.55 L153.34,116.36 L154.23,116.17 L155.13,115.98 L156.03,115.79 L156.92,115.60 L157.82,115.41 L158.71,115.22 L159.61,115.03 L160.51,114.84 L161.40,114.66 L162.30,114.47 L163.19,114.28 L164.09,114.09 L164.98,113.90 L165.88,113.71 L166.78,113.52 L167.67,113.33 L168.57,113.14 L169.46,112.95 L170.36,112.76 L171.26,112.57 L172.15,112.38 L173.05,112.19 L173.94,112.00 L174.84,111.81 L175.73,111.62 L176.63,111.43 L177.53,111.24 L178.42,111.05 L179.32,110.86 L180.21,110.67 L181.11,110.48 L182.01,110.29 L182.90,110.10 L183.80,109.90 L184.69,109.71 L185.59,109.52 L186.49,109.33 L187.38,109.14 L188.28,108.95 L189.17,108.76 L190.07,108.57 L190.96,108.37 L191.86,108.18 L192.76,107.99 L193.65,107.80 L194.55,107.61 L195.44,107.42 L196.34,107.22 L197.24,107.03 L198.13,106.84 L199.03,106.65 L199.92,106.45 L200.82,106.26 L201.71,106.07 L202.61,105.88 L203.51,105.68 L204.40,105.49 L205.30,105.30 L206.19,105.10 L207.09,104.91 L207.99,104.72 L208.88,104.52 L209.78,104.33 L210.67,104.14 L211.57,103.94 L212.47,103.75 L213.36,103.56 L214.26,103.36 L215.15,103.17 L216.05,102.98 L216.94,102.79 L217.84,102.60 L218.74,102.41 L219.63,102.22 L220.53,102.04 L221.42,101.85 L222.32,101.67 L223.22,101.48 L224.11,101.30 L225.01,101.12 L225.90,100.94 L226.80,100.77 L227.69,100.59 L228.59,100.42 L229.49,100.25 L230.38,100.08 L231.28,99.91 L232.17,99.74 L233.07,99.58 L233.97,99.42 L234.86,99.26 L235.76,99.11 L236.65,98.95 L237.55,98.80 L238.44,98.65 L239.34,98.51 L240.24,98.37 L241.13,98.23 L242.03,98.09 L242.92,97.96 L243.82,97.83 L244.72,97.71 L245.61,97.59 L246.51,97.47 L247.40,97.35 L248.30,97.24 L249.20,97.14 L250.09,97.03 L250.99,96.94 L251.88,96.84 L252.78,96.75 L253.67,96.66 L254.57,96.58 L255.47,96.51 L256.36,96.43 L257.26,96.36 L258.15,96.30 L259.05,96.24 L259.95,96.19 L260.84,96.14 L261.74,96.10 L262.63,96.06 L263.53,96.03 L264.42,96.00 L265.32,95.98 L266.22,95.96 L267.11,95.95 L268.01,95.95 L268.90,95.95 L269.80,95.95 L270.70,95.97 L271.59,95.99 L272.49,96.01 L273.38,96.04 L274.28,96.08 L275.18,96.12 L276.07,96.18 L276.97,96.23 L277.86,96.30 L278.76,96.37 L279.65,96.45 L280.55,96.53 L281.45,96.62 L282.34,96.72 L283.24,96.83 L284.13,96.94 L285.03,97.06 L285.93,97.19 L286.82,97.33 L287.72,97.47 L288.61,97.62 L289.51,97.78 L290.40,97.95 L291.30,98.12 L292.20,98.31 L293.09,98.50 L293.99,98.70 L294.88,98.91 L295.78,99.12 L296.68,99.35 L297.57,99.58 L298.47,99.83 L299.36,100.08 L300.26,100.34 L301.15,100.61 L302.05,100.88 L302.95,101.17 L303.84,101.46 L304.74,101.76 L305.63,102.07 L306.53,102.39 L307.43,102.71 L308.32,103.05 L309.22,103.39 L310.11,103.74 L311.01,104.09 L311.91,104.45 L312.80,104.82 L313.70,105.20 L314.59,105.58 L315.49,105.97 L316.38,106.37 L317.28,106.77 L318.18,107.18 L319.07,107.60 L319.97,108.02 L320.86,108.45 L321.76,108.89 L322.66,109.33 L323.55,109.78 L324.45,110.23 L325.34,110.69 L326.24,111.16 L327.13,111.63 L328.03,112.11 L328.93,112.59 L329.82,113.08 L330.72,113.57 L331.61,114.07 L332.51,114.57 L333.41,115.08 L334.30,115.59 L335.20,116.11 L336.09,116.63 L336.99,117.16 L337.88,117.69 L338.78,118.22 L339.68,118.76 L340.57,119.30 L341.47,119.85 L342.36,120.40 L343.26,120.96 L344.16,121.52 L345.05,122.08 L345.95,122.65 L346.84,123.22 L347.74,123.79 L348.64,124.37 L349.53,124.95 L350.43,125.53 L351.32,126.12 L352.22,126.70 L353.11,127.30 L354.01,127.89 L354.91,128.49 L355.80,129.08 L356.70,129.69 L357.59,130.29 L358.49,130.90 L359.39,131.50 L360.28,132.11 L361.18,132.73 L362.07,133.34 L362.97,133.95 L363.86,134.57 L364.76,135.19 L365.66,135.81 L366.55,136.43 L367.45,137.05 L368.34,137.68 L369.24,138.30 L370.14,138.93 L371.03,139.55 L371.93,140.18 L372.82,140.81 L373.72,141.43 L374.62,142.06 L375.51,142.69 L376.41,143.32 L377.30,143.95 L378.20,144.58 L379.09,145.21 L379.99,145.84 L380.89,146.47 L381.78,147.09 L382.68,147.72 L383.57,148.35 L384.47,148.98 L385.37,149.60 L386.26,150.23 L387.16,150.85 L388.05,151.47 L388.95,152.10 L389.84,152.72 L390.74,153.34 L391.64,153.96 L392.53,154.58 L393.43,155.20 L394.32,155.82 L395.22,156.44 L396.12,157.06 L397.01,157.68 L397.91,158.30 L398.80,158.92 L399.70,159.55 L400.59,160.17 L401.49,160.80 L402.39,161.43 L403.28,162.06 L404.18,162.69 L405.07,163.32 L405.97,163.95 L406.87,164.59 L407.76,165.23 L408.66,165.87 L409.55,166.52 L410.45,167.16 L411.35,167.82 L412.24,168.47 L413.14,169.13 L414.03,169.79 L414.93,170.45 L415.82,171.12 L416.72,171.79 L417.62,172.47 L418.51,173.15 L419.41,173.83 L420.30,174.52 L421.20,175.22 L422.10,175.92 L422.99,176.62 L423.89,177.33 L424.78,178.04 L425.68,178.76 L426.57,179.49 L427.47,180.22 L428.37,180.96 L429.26,181.70 L430.16,182.45 L431.05,183.21 L431.95,183.97 L432.85,184.75 L433.74,185.52 L434.64,186.31 L435.53,187.10 L436.43,187.90 L437.33,188.70 L438.22,189.52 L439.12,190.34 L440.01,191.17 L440.91,192.01 L441.80,192.85 L442.70,193.71 L443.60,194.57 L444.49,195.45 L445.39,196.33 L446.28,197.22 L447.18,198.12 L448.08,199.03 L448.97,199.95 L449.87,200.87 L450.76,201.81 L451.66,202.76 L452.55,203.72 L453.45,204.69 L454.35,205.67 L455.24,206.66 L456.14,207.66 L457.03,208.67 L457.93,209.70 L458.83,210.73 L459.72,211.78 L460.62,212.84 L461.51,213.91 L462.41,214.99 L463.31,216.08 L464.20,217.19 L465.10,218.31 L465.99,219.44 L466.89,220.58 L467.78,221.74 L468.68,222.91 L469.58,224.09 L470.47,225.29 L471.37,226.50 L472.26,227.72 L473.16,228.96 L474.06,230.21 L474.95,231.48 L475.85,232.76 L476.74,234.05 L477.64,235.36 L478.53,236.68 L479.43,238.02 L480.33,239.37 L481.22,240.73 L482.12,242.11 L483.01,243.50 L483.91,244.90 L484.81,246.32 L485.70,247.75 L486.60,249.19 L487.49,250.64 L488.39,252.10 L489.28,253.57 L490.18,255.05 L491.08,256.54 L491.97,258.05 L492.87,259.56 L493.76,261.08 L494.66,262.61 L495.56,264.15 L496.45,265.70 L497.35,267.25 L498.24,268.82 L499.14,270.39 L500.04,271.97 L500.93,273.55 L501.83,275.14 L502.72,276.74 L503.62,278.35 L504.51,279.96 L505.41,281.57 L506.31,283.20 L507.20,284.82 L508.10,286.45 L508.99,288.09 L509.89,289.73 L510.79,291.37 L511.68,293.02 L512.58,294.67 L513.47,296.32 L514.37,297.97 L515.26,299.63 L516.16,301.29 L517.06,302.95 L517.95,304.61 L518.85,306.28 L519.74,307.94 L520.64,309.60 L521.54,311.27 L522.43,312.93 L523.33,314.60 L524.22,316.26 L525.12,317.92 L526.01,319.59 L526.91,321.25 L527.81,322.90 L528.70,324.56 L529.60,326.21 L530.49,327.86 L531.39,329.51 L532.29,331.16 L533.18,332.80 L534.08,334.44 L534.97,336.07 L535.87,337.70 L536.77,339.32 L537.66,340.94 L538.56,342.55 L539.45,344.16 L540.35,345.76 L541.24,347.36 L542.14,348.95 L543.04,350.53 L543.93,352.10 L544.83,353.67 L545.72,355.23 L546.62,356.78 L547.52,358.32 L548.41,359.86 L549.31,361.39 L550.20,362.90 L551.10,364.41 L551.99,365.91 L552.89,367.39 L553.79,368.87 L554.68,370.34 L555.58,371.79 L556.47,373.24 L557.37,374.67 L558.27,376.09 L559.16,377.50 L560.06,378.90 L560.95,380.28 L561.85,381.65 L562.75,383.01 L563.64,384.35 L564.54,385.68 L565.43,387.00 L566.33,388.30 L567.22,389.59 L568.12,390.86 L569.02,392.12 L569.91,393.36 L570.81,394.59 L571.70,395.80 L572.60,397.00 L573.50,398.19 L574.39,399.36 L575.29,400.52 L576.18,401.66 L577.08,402.79 L577.97,403.91 L578.87,405.02 L579.77,406.11 L580.66,407.18 L581.56,408.25 L582.45,409.30 L583.35,410.34 L584.25,411.36 L585.14,412.37 L586.04,413.37 L586.93,414.36 L587.83,415.34 L588.72,416.30 L589.62,417.25 L590.52,418.19 L591.41,419.11 L592.31,420.03 L593.20,420.93 L594.10,421.82 L595.00,422.70 L595.89,423.57 L596.79,424.42 L597.68,425.27 L598.58,426.10 L599.48,426.92 L600.37,427.73 L601.27,428.53 L602.16,429.32 L603.06,430.10 L603.95,430.87 L604.85,431.63 L605.75,432.38 L606.64,433.11 L607.54,433.84 L608.43,434.55 L609.33,435.26 L610.23,435.96 L611.12,436.64 L612.02,437.32 L612.91,437.99 L613.81,438.65 L614.70,439.29 L615.60,439.93 L616.50,440.56 L617.39,441.18 L618.29,441.79 L619.18,442.40 L620.08,442.99 L620.98,443.57 L621.87,444.15 L622.77,444.72 L623.66,445.28 L624.56,445.83 L625.46,446.37 L626.35,446.91 L627.25,447.43 L628.14,447.95 L629.04,448.46 L629.93,448.97 L630.83,449.46 L631.73,449.95 L632.62,450.43 L633.52,450.90 L634.41,451.37 L635.31,451.83 L636.21,452.28 L637.10,452.73 L638.00,453.16 L638.89,453.60 L639.79,454.02 L640.68,454.44 L641.58,454.85 L642.48,455.26 L643.37,455.66 L644.27,456.05 L645.16,456.44 L646.06,456.82 L646.96,457.19 L647.85,457.56 L648.75,457.93 L649.64,458.29 L650.54,458.64 L651.43,458.99 L652.33,459.33 L653.23,459.67 L654.12,460.00 L655.02,460.33 L655.91,460.65 L656.82,460.97 L657.72,461.29 L658.63,461.60 L659.53,461.91 L660.44,462.21 L661.34,462.51 L662.25,462.80 L663.15,463.09 L664.06,463.37 L664.96,463.66 L665.87,463.93 L666.77,464.20 L667.68,464.47 L668.58,464.73 L669.49,464.99 L670.39,465.25 L671.30,465.50 L672.20,465.75 L673.11,465.99 L674.01,466.23 L674.92,466.46 L675.82,466.70 L676.73,466.92 L677.63,467.15 L678.54,467.37 L679.44,467.59 L680.35,467.80 L681.25,468.01 L682.16,468.21 L683.06,468.42 L683.97,468.62 L684.87,468.81 L685.78,469.01 L686.68,469.20 L687.59,469.38 L688.49,469.57 L689.40,469.75 L690.30,469.93 L691.21,470.10 L692.11,470.27 L693.02,470.44 L693.92,470.61 L694.83,470.77 L695.73,470.93 L696.64,471.09 L697.54,471.25 L698.44,471.40 L699.35,471.55 L700.25,471.70 L701.16,471.84 L702.06,471.98 L702.97,472.12 L703.87,472.26 L704.78,472.40 L705.68,472.53 L706.59,472.66 L707.49,472.79 L708.40,472.92 L709.30,473.05 L710.21,473.17 L711.11,473.29 L712.02,473.41 L712.92,473.53 L713.83,473.65 L714.73,473.76 L715.64,473.88 L716.54,473.99 L717.45,474.10 L718.35,474.21 L719.26,474.31 L720.16,474.42 L721.07,474.52 L721.97,474.63 L722.88,474.73 L723.78,474.83 L724.69,474.93 L725.59,475.02 L726.50,475.12 L727.40,475.22 L728.31,475.31 L729.21,475.41 L730.12,475.50 L731.02,475.59 L731.93,475.68 L732.83,475.78 L733.74,475.87 L734.64,475.96 L735.55,476.04 L736.45,476.13 L737.36,476.22 L738.26,476.31 L739.17,476.40 L740.07,476.48 L740.98,476.57 L741.88,476.66 L742.79,476.74 L743.69,476.83 L744.60,476.91 L745.50,477.00" fill="none" stroke="#FF00FF" stroke-width="3" stroke-linejoin="round"/>
<rect x="112.90" y="121.25" width="11" height="11" fill="#000000"/>
<rect x="202.49" y="78.10" width="11" height="11" fill="#000000"/>
<rect x="292.07" y="75.10" width="11" height="11" fill="#000000"/>
<rect x="381.66" y="150.00" width="11" height="11" fill="#000000"/>
<rect x="471.24" y="184.00" width="11" height="11" fill="#000000"/>
<rect x="560.83" y="433.80" width="11" height="11" fill="#000000"/>
<rect x="650.41" y="468.35" width="11" height="11" fill="#000000"/>
<rect x="740.00" y="467.00" width="11" height="11" fill="#000000"/>
<circle cx="118.40" cy="184.80" r="5.6" fill="#FF0000"/>
<circle cx="207.99" cy="170.35" r="5.6" fill="#FF0000"/>
<circle cx="297.57" cy="174.80" r="5.6" fill="#FF0000"/>
<circle cx="387.16" cy="179.00" r="5.6" fill="#FF0000"/>
<circle cx="476.74" cy="268.30" r="5.6" fill="#FF0000"/>
<circle cx="566.33" cy="449.65" r="5.6" fill="#FF0000"/>
<circle cx="655.91" cy="475.70" r="5.6" fill="#FF0000"/>
<circle cx="745.50" cy="473.75" r="5.6" fill="#FF0000"/>
<path d="M118.40,185.55 L125.60,196.95 L111.20,196.95 Z" fill="#0000FF"/>
<path d="M207.99,179.90 L215.19,191.30 L200.79,191.30 Z" fill="#0000FF"/>
<path d="M297.57,206.90 L304.77,218.30 L290.37,218.30 Z" fill="#0000FF"/>
<path d="M387.16,170.70 L394.36,182.10 L379.96,182.10 Z" fill="#0000FF"/>
<path d="M476.74,199.30 L483.94,210.70 L469.54,210.70 Z" fill="#0000FF"/>
<path d="M566.33,453.75 L573.53,465.15 L559.13,465.15 Z" fill="#0000FF"/>
<path d="M655.91,472.20 L663.11,483.60 L648.71,483.60 Z" fill="#0000FF"/>
<path d="M745.50,462.30 L752.70,473.70 L738.30,473.70 Z" fill="#0000FF"/>
<path d="M111.30,119.20 L125.50,119.20 L118.40,131.20 Z" fill="#FF00FF"/>
<path d="M200.89,100.40 L215.09,100.40 L207.99,112.40 Z" fill="#FF00FF"/>
<path d="M290.47,80.50 L304.67,80.50 L297.57,92.50 Z" fill="#FF00FF"/>
<path d="M380.06,148.10 L394.26,148.10 L387.16,160.10 Z" fill="#FF00FF"/>
<path d="M469.64,205.20 L483.84,205.20 L476.74,217.20 Z" fill="#FF00FF"/>
<path d="M559.23,408.40 L573.43,408.40 L566.33,420.40 Z" fill="#FF00FF"/>
<path d="M648.81,464.00 L663.01,464.00 L655.91,476.00 Z" fill="#FF00FF"/>
<path d="M738.40,472.50 L752.60,472.50 L745.50,484.50 Z" fill="#FF00FF"/>
<path d="M118.40,117.50 V121.25 M118.40,132.25 V136.20 M113.40,117.50 H123.40 M113.40,136.20 H123.40" stroke="#000000" stroke-width="1.5" fill="none"/>
<path d="M207.99,69.00 V78.10 M207.99,89.10 V97.50 M202.99,69.00 H212.99 M202.99,97.50 H212.99" stroke="#000000" stroke-width="1.5" fill="none"/>
<path d="M297.57,72.00 V75.10 M297.57,86.10 V90.40 M292.57,72.00 H302.57 M292.57,90.40 H302.57" stroke="#000000" stroke-width="1.5" fill="none"/>
<path d="M387.16,119.00 V150.00 M387.16,161.00 V194.50 M382.16,119.00 H392.16 M382.16,194.50 H392.16" stroke="#000000" stroke-width="1.5" fill="none"/>
<path d="M476.74,132.20 V184.00 M476.74,195.00 V245.80 M471.74,132.20 H481.74 M471.74,245.80 H481.74" stroke="#000000" stroke-width="1.5" fill="none"/>
<path d="M566.33,424.60 V433.80 M566.33,444.80 V455.60 M561.33,424.60 H571.33 M561.33,455.60 H571.33" stroke="#000000" stroke-width="1.5" fill="none"/>
<path d="M655.91,460.05 V468.35 M655.91,479.35 V487.65 M650.91,460.05 H660.91 M650.91,487.65 H660.91" stroke="#000000" stroke-width="1.5" fill="none"/>
<path d="M745.50,465.00 V467.00 M745.50,478.00 V480.50 M740.50,465.00 H750.50 M740.50,480.50 H750.50" stroke="#000000" stroke-width="1.5" fill="none"/>
<path d="M113.40,180.80 H123.40 M113.40,188.80 H123.40" stroke="#FF0000" stroke-width="1.5" fill="none"/>
<path d="M207.99,156.20 V164.75 M207.99,175.95 V184.50 M202.99,156.20 H212.99 M202.99,184.50 H212.99" stroke="#FF0000" stroke-width="1.5" fill="none"/>
<path d="M292.57,173.30 H302.57 M292.57,176.30 H302.57" stroke="#FF0000" stroke-width="1.5" fill="none"/>
<path d="M382.16,177.50 H392.16 M382.16,180.50 H392.16" stroke="#FF0000" stroke-width="1.5" fill="none"/>
<path d="M476.74,233.40 V262.70 M476.74,273.90 V303.20 M471.74,233.40 H481.74 M471.74,303.20 H481.74" stroke="#FF0000" stroke-width="1.5" fill="none"/>
<path d="M566.33,434.65 V444.05 M566.33,455.25 V464.65 M561.33,434.65 H571.33 M561.33,464.65 H571.33" stroke="#FF0000" stroke-width="1.5" fill="none"/>
<path d="M655.91,467.00 V470.10 M655.91,481.30 V484.40 M650.91,467.00 H660.91 M650.91,484.40 H660.91" stroke="#FF0000" stroke-width="1.5" fill="none"/>
<path d="M740.50,470.30 H750.50 M740.50,477.20 H750.50" stroke="#FF0000" stroke-width="1.5" fill="none"/>
<path d="M118.40,174.90 V185.35 M118.40,199.95 V210.40 M113.40,174.90 H123.40 M113.40,210.40 H123.40" stroke="#0000FF" stroke-width="1.5" fill="none"/>
<path d="M207.99,163.55 V179.70 M207.99,194.30 V210.45 M202.99,163.55 H212.99 M202.99,210.45 H212.99" stroke="#0000FF" stroke-width="1.5" fill="none"/>
<path d="M297.57,204.00 V206.70 M297.57,221.30 V223.30 M292.57,204.00 H302.57 M292.57,223.30 H302.57" stroke="#0000FF" stroke-width="1.5" fill="none"/>
<path d="M382.16,176.80 H392.16 M382.16,178.80 H392.16" stroke="#0000FF" stroke-width="1.5" fill="none"/>
<path d="M476.74,146.40 V199.10 M476.74,213.70 V266.40 M471.74,146.40 H481.74 M471.74,266.40 H481.74" stroke="#0000FF" stroke-width="1.5" fill="none"/>
<path d="M566.33,444.70 V453.55 M566.33,468.15 V477.00 M561.33,444.70 H571.33 M561.33,477.00 H571.33" stroke="#0000FF" stroke-width="1.5" fill="none"/>
<path d="M650.91,476.30 H660.91 M650.91,482.30 H660.91" stroke="#0000FF" stroke-width="1.5" fill="none"/>
<path d="M740.50,465.20 H750.50 M740.50,476.00 H750.50" stroke="#0000FF" stroke-width="1.5" fill="none"/>
<path d="M118.40,112.00 V116.40 M118.40,131.00 V135.40 M113.40,112.00 H123.40 M113.40,135.40 H123.40" stroke="#FF00FF" stroke-width="1.5" fill="none"/>
<path d="M207.99,77.80 V97.60 M207.99,112.20 V132.00 M202.99,77.80 H212.99 M202.99,132.00 H212.99" stroke="#FF00FF" stroke-width="1.5" fill="none"/>
<path d="M297.57,50.80 V77.70 M297.57,92.30 V120.30 M292.57,50.80 H302.57 M292.57,120.30 H302.57" stroke="#FF00FF" stroke-width="1.5" fill="none"/>
<path d="M387.16,118.00 V145.30 M387.16,159.90 V190.60 M382.16,118.00 H392.16 M382.16,190.60 H392.16" stroke="#FF00FF" stroke-width="1.5" fill="none"/>
<path d="M476.74,186.20 V202.40 M476.74,217.00 V233.40 M471.74,186.20 H481.74 M471.74,233.40 H481.74" stroke="#FF00FF" stroke-width="1.5" fill="none"/>
<path d="M566.33,398.50 V405.60 M566.33,420.20 V427.30 M561.33,398.50 H571.33 M561.33,427.30 H571.33" stroke="#FF00FF" stroke-width="1.5" fill="none"/>
<path d="M650.91,466.50 H660.91 M650.91,470.50 H660.91" stroke="#FF00FF" stroke-width="1.5" fill="none"/>
<path d="M745.50,469.00 V469.70 M745.50,484.30 V484.50 M740.50,469.00 H750.50 M740.50,484.50 H750.50" stroke="#FF00FF" stroke-width="1.5" fill="none"/>
</g>
<g shape-rendering="crispEdges">
<path d="M109.5,21 V494" stroke="#000" stroke-width="3" fill="none"/>
<path d="M100,492.5 H752.5" stroke="#000" stroke-width="3" fill="none"/>
<path d="M100,492.50 H109" stroke="#000" stroke-width="3"/>
<path d="M104,458.93 H109" stroke="#000" stroke-width="2.5"/>
<path d="M100,425.36 H109" stroke="#000" stroke-width="3"/>
<path d="M104,391.79 H109" stroke="#000" stroke-width="2.5"/>
<path d="M100,358.21 H109" stroke="#000" stroke-width="3"/>
<path d="M104,324.64 H109" stroke="#000" stroke-width="2.5"/>
<path d="M100,291.07 H109" stroke="#000" stroke-width="3"/>
<path d="M104,257.50 H109" stroke="#000" stroke-width="2.5"/>
<path d="M100,223.93 H109" stroke="#000" stroke-width="3"/>
<path d="M104,190.36 H109" stroke="#000" stroke-width="2.5"/>
<path d="M100,156.79 H109" stroke="#000" stroke-width="3"/>
<path d="M104,123.21 H109" stroke="#000" stroke-width="2.5"/>
<path d="M100,89.64 H109" stroke="#000" stroke-width="3"/>
<path d="M104,56.07 H109" stroke="#000" stroke-width="2.5"/>
<path d="M100,22.50 H109" stroke="#000" stroke-width="3"/>
<path d="M142.86,494 V497.8" stroke="#000" stroke-width="2.4"/>
<path d="M165.44,494 V497.8" stroke="#000" stroke-width="2.4"/>
<path d="M181.46,494 V497.8" stroke="#000" stroke-width="2.4"/>
<path d="M193.89,494 V497.8" stroke="#000" stroke-width="2.4"/>
<path d="M204.05,494 V497.8" stroke="#000" stroke-width="2.4"/>
<path d="M212.63,494 V497.8" stroke="#000" stroke-width="2.4"/>
<path d="M220.07,494 V497.8" stroke="#000" stroke-width="2.4"/>
<path d="M226.63,494 V497.8" stroke="#000" stroke-width="2.4"/>
<path d="M232.50,494 V502.6" stroke="#000" stroke-width="3"/>
<path d="M271.11,494 V497.8" stroke="#000" stroke-width="2.4"/>
<path d="M293.69,494 V497.8" stroke="#000" stroke-width="2.4"/>
<path d="M309.71,494 V497.8" stroke="#000" stroke-width="2.4"/>
<path d="M322.14,494 V497.8" stroke="#000" stroke-width="2.4"/>
<path d="M332.30,494 V497.8" stroke="#000" stroke-width="2.4"/>
<path d="M340.88,494 V497.8" stroke="#000" stroke-width="2.4"/>
<path d="M348.32,494 V497.8" stroke="#000" stroke-width="2.4"/>
<path d="M354.88,494 V497.8" stroke="#000" stroke-width="2.4"/>
<path d="M360.75,494 V502.6" stroke="#000" stroke-width="3"/>
<path d="M399.36,494 V497.8" stroke="#000" stroke-width="2.4"/>
<path d="M421.94,494 V497.8" stroke="#000" stroke-width="2.4"/>
<path d="M437.96,494 V497.8" stroke="#000" stroke-width="2.4"/>
<path d="M450.39,494 V497.8" stroke="#000" stroke-width="2.4"/>
<path d="M460.55,494 V497.8" stroke="#000" stroke-width="2.4"/>
<path d="M469.13,494 V497.8" stroke="#000" stroke-width="2.4"/>
<path d="M476.57,494 V497.8" stroke="#000" stroke-width="2.4"/>
<path d="M483.13,494 V497.8" stroke="#000" stroke-width="2.4"/>
<path d="M489.00,494 V502.6" stroke="#000" stroke-width="3"/>
<path d="M527.61,494 V497.8" stroke="#000" stroke-width="2.4"/>
<path d="M550.19,494 V497.8" stroke="#000" stroke-width="2.4"/>
<path d="M566.21,494 V497.8" stroke="#000" stroke-width="2.4"/>
<path d="M578.64,494 V497.8" stroke="#000" stroke-width="2.4"/>
<path d="M588.80,494 V497.8" stroke="#000" stroke-width="2.4"/>
<path d="M597.38,494 V497.8" stroke="#000" stroke-width="2.4"/>
<path d="M604.82,494 V497.8" stroke="#000" stroke-width="2.4"/>
<path d="M611.38,494 V497.8" stroke="#000" stroke-width="2.4"/>
<path d="M617.25,494 V502.6" stroke="#000" stroke-width="3"/>
<path d="M655.86,494 V497.8" stroke="#000" stroke-width="2.4"/>
<path d="M678.44,494 V497.8" stroke="#000" stroke-width="2.4"/>
<path d="M694.46,494 V497.8" stroke="#000" stroke-width="2.4"/>
<path d="M706.89,494 V497.8" stroke="#000" stroke-width="2.4"/>
<path d="M717.05,494 V497.8" stroke="#000" stroke-width="2.4"/>
<path d="M725.63,494 V497.8" stroke="#000" stroke-width="2.4"/>
<path d="M733.07,494 V497.8" stroke="#000" stroke-width="2.4"/>
<path d="M739.63,494 V497.8" stroke="#000" stroke-width="2.4"/>
<path d="M745.50,494 V502.6" stroke="#000" stroke-width="3"/>
</g>
<g>
<text x="0" y="0" transform="translate(68.60,30.00) scale(0.9796,1)" class="t">1</text>
<text x="0" y="0" transform="translate(80.95,30.00) scale(0.9796,1)" class="t">4</text>
<text x="0" y="0" transform="translate(68.60,96.79) scale(0.9796,1)" class="t">1</text>
<text x="0" y="0" transform="translate(80.95,96.79) scale(0.9796,1)" class="t">2</text>
<text x="0" y="0" transform="translate(68.60,163.58) scale(0.9796,1)" class="t">1</text>
<text x="0" y="0" transform="translate(80.95,163.58) scale(0.9796,1)" class="t">0</text>
<text x="0" y="0" transform="translate(80.95,231.27) scale(0.9796,1)" class="t">8</text>
<text x="0" y="0" transform="translate(80.95,297.16) scale(0.9796,1)" class="t">6</text>
<text x="0" y="0" transform="translate(80.95,363.95) scale(0.9796,1)" class="t">4</text>
<text x="0" y="0" transform="translate(80.95,430.74) scale(0.9796,1)" class="t">2</text>
<text x="0" y="0" transform="translate(80.95,497.53) scale(0.9796,1)" class="t">0</text>
<text x="0" y="0" transform="translate(209.14,525.30) scale(0.9796,1)" class="t">0</text>
<text x="0" y="0" transform="translate(222.49,525.30) scale(0.9796,1)" class="t">.</text>
<text x="0" y="0" transform="translate(229.16,525.30) scale(0.9796,1)" class="t">0</text>
<text x="0" y="0" transform="translate(242.51,525.30) scale(0.9796,1)" class="t">1</text>
<text x="0" y="0" transform="translate(344.07,525.30) scale(0.9796,1)" class="t">0</text>
<text x="0" y="0" transform="translate(357.42,525.30) scale(0.9796,1)" class="t">.</text>
<text x="0" y="0" transform="translate(364.08,525.30) scale(0.9796,1)" class="t">1</text>
<text x="0" y="0" transform="translate(482.33,525.30) scale(0.9796,1)" class="t">1</text>
<text x="0" y="0" transform="translate(603.90,525.30) scale(0.9796,1)" class="t">1</text>
<text x="0" y="0" transform="translate(617.25,525.30) scale(0.9796,1)" class="t">0</text>
<text x="0" y="0" transform="translate(725.48,525.30) scale(0.9796,1)" class="t">1</text>
<text x="0" y="0" transform="translate(738.83,525.30) scale(0.9796,1)" class="t">0</text>
<text x="0" y="0" transform="translate(752.17,525.30) scale(0.9796,1)" class="t">0</text>
</g>
<g>
<rect x="68.62" y="26.50" width="5.59" height="4.70" fill="#fff"/>
<rect x="77.50" y="26.50" width="4.79" height="4.70" fill="#fff"/>
<rect x="68.62" y="93.29" width="5.59" height="4.70" fill="#fff"/>
<rect x="77.50" y="93.29" width="4.79" height="4.70" fill="#fff"/>
<rect x="68.62" y="160.08" width="5.59" height="4.70" fill="#fff"/>
<rect x="77.50" y="160.08" width="4.79" height="4.70" fill="#fff"/>
<rect x="242.52" y="521.80" width="5.59" height="4.70" fill="#fff"/>
<rect x="251.40" y="521.80" width="4.79" height="4.70" fill="#fff"/>
<rect x="364.10" y="521.80" width="5.59" height="4.70" fill="#fff"/>
<rect x="372.98" y="521.80" width="4.79" height="4.70" fill="#fff"/>
<rect x="482.34" y="521.80" width="5.59" height="4.70" fill="#fff"/>
<rect x="491.22" y="521.80" width="4.79" height="4.70" fill="#fff"/>
<rect x="603.91" y="521.80" width="5.59" height="4.70" fill="#fff"/>
<rect x="612.80" y="521.80" width="4.79" height="4.70" fill="#fff"/>
<rect x="725.49" y="521.80" width="5.59" height="4.70" fill="#fff"/>
<rect x="734.37" y="521.80" width="4.79" height="4.70" fill="#fff"/>
</g>
<g>
<text x="0" y="0" transform="translate(430.15,570.8) scale(0.9573,1)" text-anchor="middle" class="a">[Tylosin], ng/mL</text>
<text x="0" y="0" transform="translate(48.3,276.75) rotate(-90) scale(0.9660,1)" text-anchor="middle" class="a">Intensity, RU</text>
</g>
</svg>
</body></html>
